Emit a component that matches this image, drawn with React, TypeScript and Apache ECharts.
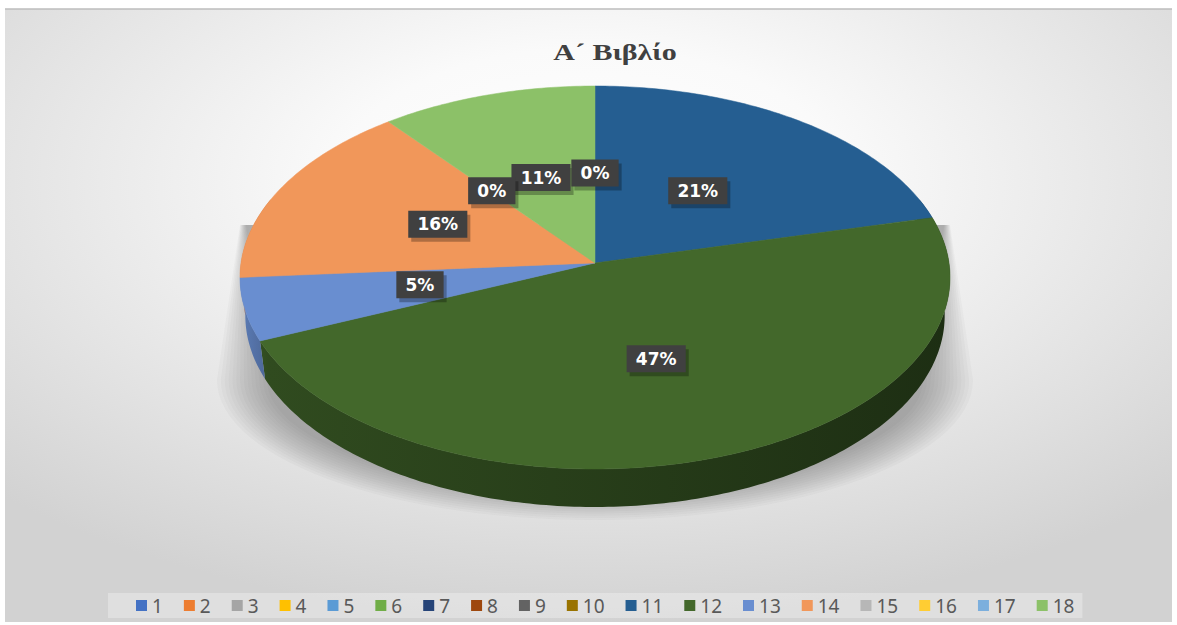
import React, { useEffect, useRef } from "react";
import * as echarts from "echarts";

const titleText = "Α´ Βιβλίο";
const categories = ["1","2","3","4","5","6","7","8","9","10","11","12","13","14","15","16","17","18"];
const values: (number | null)[] = [0,null,null,null,null,null,null,null,null,null,21.1,47.4,5.3,15.6,0,null,null,10.6];
const colors = ["#4472c4","#ed7d31","#a5a5a5","#ffc000","#5b9bd5","#70ad47","#264478","#9e480e","#636363","#997300","#255e91","#43682b","#698ed0","#f1975a","#b7b7b7","#ffcd33","#7cafdd","#8cc168"];

const W = 1177, H = 625;
const CX = 595, CY = 263, A = 354, B = 190.4, K = 0.0757, DEPTH = 38, BOTTOM_SCALE = 0.985;

const total = values.reduce((s: number, v) => s + (v ?? 0), 0) as number;
const starts: number[] = [];
{
  let c = 0;
  values.forEach((v) => { starts.push(c); c += v ?? 0; });
}
const ang = (cum: number) => (cum / total) * Math.PI * 2;
const rim = (t: number): [number, number] => {
  const u = Math.sin(t), v = -Math.cos(t);
  const w = 1 - K * v;
  return [CX + (A * u) / w, CY + (B * v) / w];
};
const arc = (t0: number, t1: number): [number, number][] => {
  const n = Math.max(1, Math.ceil((t1 - t0) / 0.015));
  const out: [number, number][] = [];
  for (let i = 0; i <= n; i++) out.push(rim(t0 + ((t1 - t0) * i) / n));
  return out;
};
const shade = (hex: string, f: number) => {
  const n = parseInt(hex.slice(1), 16);
  const c = [(n >> 16) & 255, (n >> 8) & 255, n & 255].map((x) => Math.round(x * f));
  return `rgb(${c[0]},${c[1]},${c[2]})`;
};

const WALL_FROM = (70 * Math.PI) / 180, WALL_TO = (290 * Math.PI) / 180;

function wallSeries(): any {
  const idx = values.map((v, i) => (v ? i : -1)).filter((i) => i >= 0);
  return {
    type: "custom", coordinateSystem: "none", silent: true,
    data: idx.map((i) => [i]),
    renderItem: (_p: any, api: any) => {
      const i = api.value(0);
      const t0 = Math.max(ang(starts[i]), WALL_FROM);
      const t1 = Math.min(ang(starts[i] + (values[i] as number)), WALL_TO);
      if (t1 <= t0) return { type: "group", children: [] };
      const top = arc(t0, t1);
      const bot = top.map(([x, y]) => [CX + (x - CX) * BOTTOM_SCALE, y + DEPTH]).reverse();
      return {
        type: "polygon", z2: 1, shape: { points: [...top, ...bot] },
        style: {
          fill: {
            type: "linear", global: true, x: 240, y: 0, x2: 950, y2: 0,
            colorStops: [
              { offset: 0, color: shade(colors[i], 0.88) },
              { offset: 0.04, color: shade(colors[i], 0.72) },
              { offset: 1, color: shade(colors[i], 0.44) },
            ],
          },
        },
      };
    },
  };
}

function sliceSeries(i: number): any {
  const v = values[i];
  return {
    type: "custom", name: categories[i], coordinateSystem: "none", silent: true,
    itemStyle: { color: colors[i] },
    data: v == null ? [] : [[v]],
    renderItem: (_p: any, api: any) => {
      const val = api.value(0);
      const t0 = ang(starts[i]), t1 = ang(starts[i] + val);
      const mid = rim((t0 + t1) / 2);
      const lx = (mid[0] + CX) / 2, ly = (mid[1] + CY) / 2 - 1.5;
      const zTop = val === 0 ? 60 : 50;
      const text = `${Math.round((val / total) * 100)}%`;
      const bw = (text.length - 1) * 11.8 + 17.5 + 18;
      const children: any[] = [];
      if (val > 0) {
        children.push({
          type: "polygon", z2: 10,
          shape: { points: [[CX, CY], ...arc(t0, t1)] },
          style: { fill: colors[i], stroke: colors[i], lineWidth: 0.5 },
        });
      }
      children.push({
        type: "rect", z2: zTop,
        shape: { x: lx - bw / 2 + 3, y: ly - 13.5 + 4, width: bw, height: 27 },
        style: { fill: "rgba(0,0,0,0.28)" },
      });
      children.push({
        type: "rect", z2: zTop + 1,
        shape: { x: lx - bw / 2, y: ly - 13.5, width: bw, height: 27 },
        style: { fill: "#404040" },
      });
      children.push({
        type: "text", z2: zTop + 2, x: lx, y: ly,
        style: {
          text, fill: "#ffffff", font: 'bold 17px "DejaVu Sans"',
          align: "center", verticalAlign: "middle",
        },
      });
      return { type: "group", children };
    },
  };
}

function softShadow(): any[] {
  const N = 14;
  const out: any[] = [];
  for (let k = 0; k < N; k++) {
    const d = k / (N - 1);
    const rx = 328 + 50 * d, ry = 112 + 28 * d;
    const pts: [number, number][] = [[246 - 6 * d, 225]];
    for (let a = 0; a <= 60; a++) {
      const t = (a / 60) * Math.PI;
      pts.push([595 - rx * Math.cos(t), 380 + ry * Math.sin(t)]);
    }
    pts.push([944 + 6 * d, 225]);
    out.push({
      type: "polygon", z: -8, silent: true, shape: { points: pts },
      style: { fill: "rgba(70,70,70,0.032)" },
    });
  }
  return out;
}

export default function App() {
  const ref = useRef<HTMLDivElement>(null);
  useEffect(() => {
    const chart = echarts.init(ref.current!, undefined, { renderer: "svg" });
    chart.setOption({
      animation: false,
      legend: {
        data: categories, left: 108, top: 593, orient: "horizontal", icon: "rect",
        itemWidth: 11, itemHeight: 11, itemGap: 21, padding: [3, 8, 3, 28],
        backgroundColor: "rgba(255,255,255,0.3)",
        textStyle: { fontFamily: '"Noto Sans"', fontSize: 19, color: "#595959" },
        selectedMode: false,
      },
      graphic: [
        {
          type: "rect", z: -10, silent: true,
          shape: { x: 5, y: 9, width: 1167, height: 613 },
          style: {
            fill: {
              type: "radial", x: 0.5, y: 0.28, r: 0.72,
              colorStops: [
                { offset: 0, color: "#ffffff" },
                { offset: 0.3, color: "#fafafa" },
                { offset: 1, color: "#d2d2d2" },
              ],
            },
          },
        },
        { type: "line", z: -9, silent: true, shape: { x1: 5, y1: 9, x2: 1172, y2: 9 }, style: { stroke: "#bdbdbd", lineWidth: 1.5 } },
        ...softShadow(),
        {
          type: "text", z: 5, x: 615, y: 52, scaleX: 1.25, silent: true,
          style: {
            text: titleText, font: 'bold 24px "Liberation Serif"', fill: "#404040",
            align: "center", verticalAlign: "middle",
          },
        },
      ],
      series: [wallSeries(), ...categories.map((_, i) => sliceSeries(i))],
    });
    return () => chart.dispose();
  }, []);
  return <div ref={ref} style={{ position: "fixed", left: 0, top: 0, width: W, height: H, background: "#fff" }} />;
}
